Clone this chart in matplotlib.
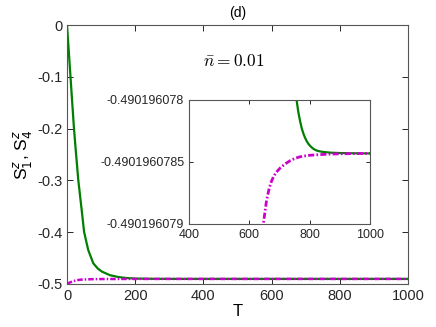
# S1^z, S4^z 随时间 T 的演化 (d) 及局部放大

import matplotlib.pyplot as plt

plt.rcParams['font.family'] = ['Liberation Sans', 'DejaVu Sans']
plt.rcParams['mathtext.fontset'] = 'cm'

# 绿色实线 S1^z
t_s1 = [0, 5, 10, 15, 20, 25, 33, 43, 50, 62, 77, 90, 102, 126, 150, 175, 200, 250, 300, 400,
        500, 600, 700, 740, 757, 762, 768, 774, 780, 785, 790, 795, 800, 806, 812, 818, 825,
        835, 845, 870, 900, 950, 1000]
s1 = [0.0, -0.049, -0.098, -0.147, -0.196, -0.237, -0.299, -0.357, -0.399, -0.434, -0.460,
      -0.470, -0.476, -0.483, -0.4865, -0.4885, -0.4895, -0.4900, -0.49015, -0.490185,
      -0.4901935, -0.4901956, -0.4901960733, -0.4901960774, -0.490196078006,
      -0.490196078091, -0.490196078168, -0.490196078231, -0.490196078276, -0.490196078306,
      -0.490196078331, -0.490196078351, -0.490196078366, -0.490196078381, -0.490196078393,
      -0.490196078402, -0.490196078409, -0.490196078415, -0.490196078419, -0.490196078425,
      -0.490196078428, -0.490196078430, -0.490196078431]

# 洋红点划线 S4^z
t_s4 = [0, 5, 10, 20, 30, 40, 60, 80, 100, 120, 150, 200, 300, 400, 500, 600, 630, 646, 657,
        666, 674, 682, 690, 702, 718, 735, 750, 768, 795, 823, 860, 900, 950, 1000]
s4 = [-0.5, -0.4982, -0.4966, -0.4942, -0.4926, -0.4916, -0.4910, -0.4906, -0.49045,
      -0.49036, -0.49030, -0.49025, -0.4902028, -0.4901965, -0.49019611, -0.490196080,
      -0.4901960793, -0.490196079006, -0.490196078811, -0.490196078711, -0.490196078651,
      -0.490196078611, -0.490196078581, -0.490196078549, -0.490196078516, -0.490196078490,
      -0.490196078472, -0.490196078458, -0.490196078447, -0.490196078442, -0.490196078437,
      -0.490196078434, -0.490196078432, -0.490196078431]

main_xticks = [0, 200, 400, 600, 800, 1000]
main_yticks = [-0.5, -0.4, -0.3, -0.2, -0.1, 0]
main_ylabels = ['-0.5', '-0.4', '-0.3', '-0.2', '-0.1', '0']
inset_xticks = [400, 600, 800, 1000]
inset_yticks = [-0.490196079, -0.4901960785, -0.490196078]
inset_ylabels = ['-0.490196079', '-0.4901960785', '-0.490196078']

green = '#007f00'
magenta = '#cc00cc'
spine_c = '#555555'
dash = (2.2, 0.8, 0.6, 0.8)   # 点划线样式

fig = plt.figure(figsize=(4.36, 3.27), dpi=100)
ax = fig.add_axes([0.1537, 0.1315, 0.7821, 0.792])
ax.plot(t_s1, s1, color=green, linewidth=1.6)
ax.plot(t_s4, s4, color=magenta, linewidth=1.8, dashes=dash)
ax.set_xlim(0, 1000)
ax.set_ylim(-0.5, 0)
ax.set_xticks(main_xticks)
ax.set_yticks(main_yticks)
ax.set_yticklabels(main_ylabels)
ax.tick_params(direction='in', top=True, right=True, labelsize=10.5, colors='#262626',
               length=4, width=0.7)
for sp in ax.spines.values():
    sp.set_color(spine_c)
    sp.set_linewidth(0.8)
ax.set_title('(d)', fontsize=10, pad=6)
ax.set_xlabel('T', fontsize=12, labelpad=1)
ax.set_ylabel(r'S$_1^z$, S$_4^z$', fontsize=12.5, labelpad=2, math_fontfamily='dejavusans')
ax.text(0.488, 0.86, r'$\bar{n} = 0.01$', transform=ax.transAxes, fontsize=12.5,
        ha='center', va='center')

ins = fig.add_axes([0.4335, 0.315, 0.4151, 0.3792])
ins.plot(t_s1, s1, color=green, linewidth=1.6)
ins.plot(t_s4, s4, color=magenta, linewidth=2.0, dashes=dash)
ins.set_xlim(400, 1000)
ins.set_ylim(-0.490196079, -0.490196078)
ins.set_xticks(inset_xticks)
ins.set_yticks(inset_yticks)
ins.set_yticklabels(inset_ylabels)
ins.tick_params(direction='in', top=True, right=True, labelsize=9, colors='#262626',
                length=3, width=0.7)
for sp in ins.spines.values():
    sp.set_color(spine_c)
    sp.set_linewidth(0.8)

plt.savefig('out.png', dpi=100)
